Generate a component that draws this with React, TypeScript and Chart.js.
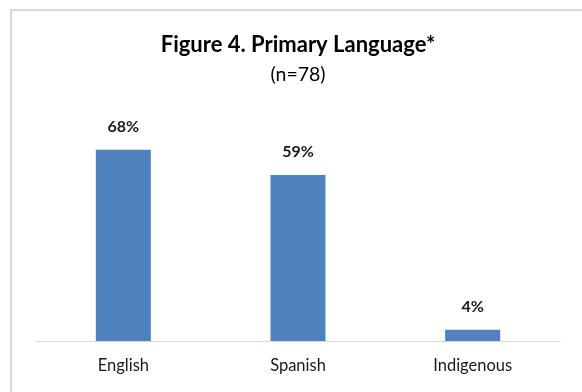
import React, { useEffect, useRef } from "react";
import { Chart, registerables } from "chart.js";

Chart.register(...registerables);

const categories = ["English", "Spanish", "Indigenous"];
const values = [68, 59, 4];
const valueLabels = ["68%", "59%", "4%"];
const titleText = "Figure 4. Primary Language*";
const subtitleText = "(n=78)";

const FONT = "Lato, 'Open Sans', sans-serif";

const framePlugin = {
  id: "frame",
  beforeDraw(chart: any) {
    const ctx = chart.ctx;
    ctx.save();
    ctx.fillStyle = "#ffffff";
    ctx.fillRect(0, 0, chart.width, chart.height);
    ctx.fillStyle = "#d9d9d9";
    ctx.fillRect(10, 9, chart.width - 10, 2);
    ctx.fillRect(10, 9, 2, chart.height - 9);
    ctx.restore();
  },
};

const labelPlugin = {
  id: "valueLabels",
  afterDatasetsDraw(chart: any) {
    const ctx = chart.ctx;
    const meta = chart.getDatasetMeta(0);
    ctx.save();
    ctx.font = `bold 16px ${FONT}`;
    ctx.fillStyle = "#1a1a1a";
    ctx.textAlign = "center";
    ctx.textBaseline = "middle";
    meta.data.forEach((bar: any, i: number) => {
      ctx.fillText(valueLabels[i], bar.x, bar.y - 23);
    });
    ctx.restore();
  },
};

export default function App() {
  const ref = useRef<HTMLCanvasElement>(null);
  useEffect(() => {
    const chart = new Chart(ref.current as HTMLCanvasElement, {
      type: "bar",
      data: {
        labels: categories,
        datasets: [
          {
            data: values,
            backgroundColor: "#4f81bd",
            borderWidth: 0,
            categoryPercentage: 1,
            barPercentage: 0.315,
          },
        ],
      },
      options: {
        responsive: false,
        animation: false,
        devicePixelRatio: 1,
        layout: { padding: { top: 10, left: 36, right: 22, bottom: 0 } },
        plugins: {
          legend: { display: false },
          tooltip: { enabled: false },
          title: {
            display: true,
            text: titleText,
            color: "#000000",
            font: { family: FONT, size: 22, weight: "bold", lineHeight: 1.2 },
            padding: { top: 21.8, bottom: 0 },
          },
          subtitle: {
            display: true,
            text: subtitleText,
            color: "#000000",
            font: { family: FONT, size: 19.5, weight: "normal", lineHeight: 1.2 },
            padding: { top: 5.1, bottom: 29.3 },
          },
        },
        scales: {
          x: {
            grid: { display: false, drawTicks: false },
            border: { display: true, color: "#d9d9d9", width: 1 },
            ticks: {
              color: "#1a1a1a",
              font: { family: FONT, size: 16.5, lineHeight: 1.2 },
              padding: 15,
            },
            afterFit(scale: any) {
              scale.height = 51;
            },
          },
          y: {
            display: false,
            min: 0,
            max: 80,
          },
        },
      },
      plugins: [framePlugin, labelPlugin],
    });
    return () => chart.destroy();
  }, []);
  return (
    <div style={{ position: "fixed", left: 0, top: 0, width: 582, height: 392 }}>
      <canvas ref={ref} width={582} height={392} style={{ width: 582, height: 392 }} />
    </div>
  );
}
